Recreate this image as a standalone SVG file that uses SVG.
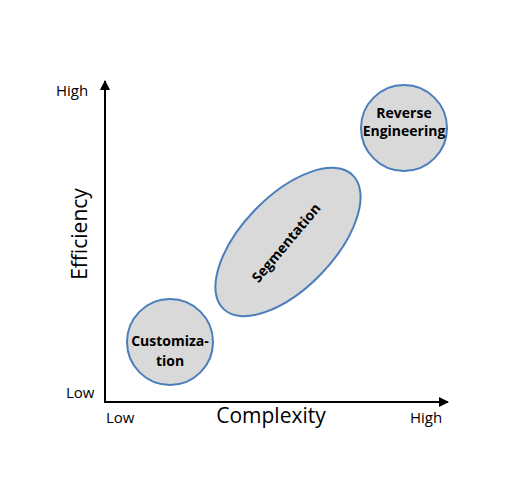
<svg xmlns="http://www.w3.org/2000/svg" width="531" height="488" viewBox="0 0 531 488">
<style>
.n{fill:#d9d9d9;stroke:#4a7ebb;stroke-width:2}
.lb{font-family:"Open Sans","Liberation Sans",sans-serif;font-weight:bold;font-size:14px;fill:#000;text-anchor:middle}
.ax{font-family:"Open Sans","Liberation Sans",sans-serif;font-size:15px;fill:#000}
.tt{font-family:"Open Sans","Liberation Sans",sans-serif;font-size:21px;fill:#000;text-anchor:middle}
</style>
<defs>
<marker id="ar" viewBox="0 0 10 10" refX="9" refY="5" markerWidth="5" markerHeight="5" orient="auto" markerUnits="strokeWidth">
<path d="M0,0 L10,5 L0,10 Z" fill="#000"/>
</marker>
</defs>
<rect width="531" height="488" fill="#fff"/>
<g id="connectors">
<line x1="105" y1="403" x2="105" y2="81" stroke="#000" stroke-width="2" marker-end="url(#ar)"/>
<line x1="104" y1="402" x2="448" y2="402" stroke="#000" stroke-width="2" marker-end="url(#ar)"/>
</g>
<g id="axis-labels">
<text class="ax" x="56" y="96">High</text>
<text class="ax" x="66" y="398">Low</text>
<text class="ax" x="106" y="423">Low</text>
<text class="ax" x="410" y="423">High</text>
<text class="tt" x="271" y="423">Complexity</text>
<text class="tt" transform="translate(87,234) rotate(-90)">Efficiency</text>
</g>
<g id="customization">
<circle class="n" cx="170" cy="342" r="43"/>
<text class="lb" x="170" y="346">Customiza-</text>
<text class="lb" x="170" y="366">tion</text>
</g>
<g id="segmentation">
<ellipse class="n" cx="288" cy="242" rx="93" ry="46" transform="rotate(-46 288 242)"/>
<text class="lb" transform="translate(290,246) rotate(-50)">Segmentation</text>
</g>
<g id="reverse-engineering">
<circle class="n" cx="404" cy="128" r="43"/>
<text class="lb" x="404" y="118">Reverse</text>
<text class="lb" x="404" y="136">Engineering</text>
</g>
</svg>
